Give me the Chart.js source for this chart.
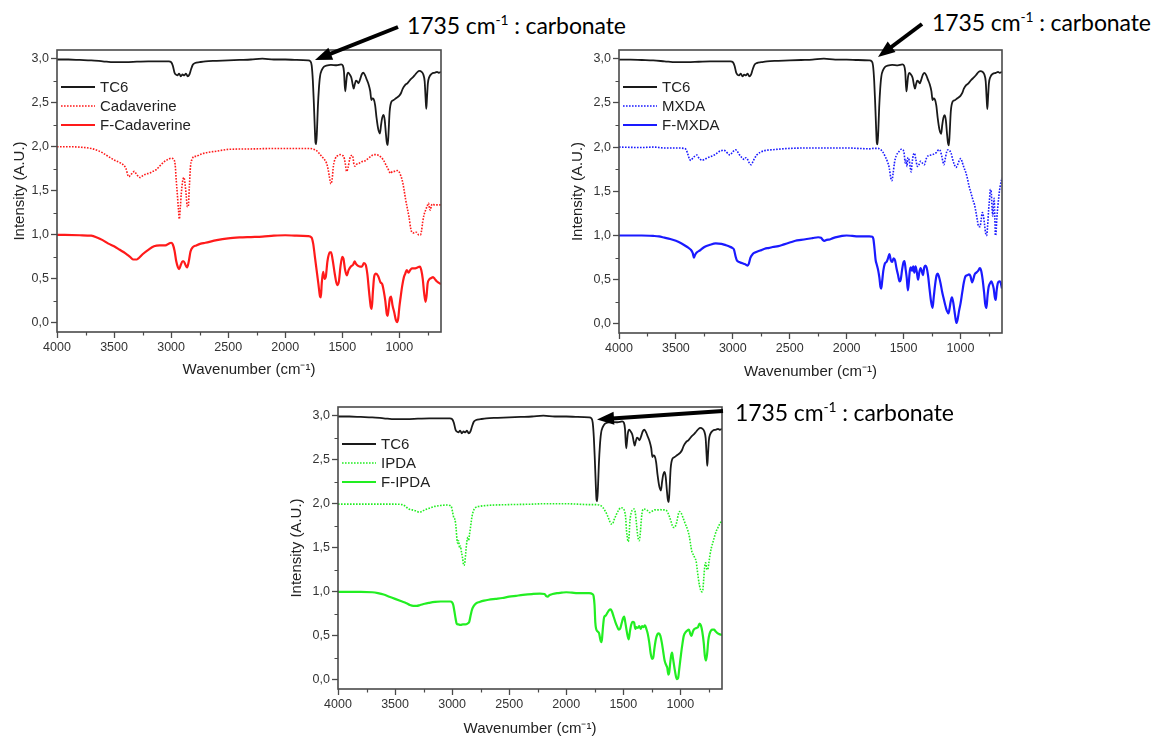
<!DOCTYPE html>
<html><head><meta charset="utf-8">
<script src="https://cdn.jsdelivr.net/npm/chart.js@4.4.1/dist/chart.umd.min.js"></script>
<style>
html,body{margin:0;padding:0;background:#fff;}
body{width:1155px;height:738px;position:relative;overflow:hidden;font-family:"Liberation Sans",Arial,sans-serif;}
.panel{position:absolute;}
.note{position:absolute;font-family:Lato,"Open Sans",sans-serif;font-size:23px;letter-spacing:-0.1px;color:#000;white-space:nowrap;line-height:1;}
.note sup{font-size:0.6em;vertical-align:0.62em;line-height:0;}
svg{position:absolute;left:0;top:0;}
</style></head><body>

<div class="panel" id="p1" style="left:0px;top:40px;"><canvas id="c1" width="460" height="350"></canvas></div>
<div class="panel" id="p2" style="left:562px;top:40px;"><canvas id="c2" width="460" height="350"></canvas></div>
<div class="panel" id="p3" style="left:281px;top:397px;"><canvas id="c3" width="460" height="341"></canvas></div>

<div class="note" style="left:407px;top:14px;">1735 cm<sup>-1</sup> : carbonate</div>
<div class="note" style="left:932px;top:11px;">1735 cm<sup>-1</sup> : carbonate</div>
<div class="note" style="left:735px;top:401px;">1735 cm<sup>-1</sup> : carbonate</div>
<svg id="arrows" width="1155" height="738"></svg>

<script>
// ---------- data (wavenumber cm-1, intensity A.U.) ----------
const X_TICKS = [4000, 3500, 3000, 2500, 2000, 1500, 1000];
const Y_TICKS = [0, 0.5, 1.0, 1.5, 2.0, 2.5, 3.0];
const X_MINOR = [3750, 3250, 2750, 2250, 1750, 1250, 750];
const Y_MINOR = [0.25, 0.75, 1.25, 1.75, 2.25, 2.75];

const TC6 = [[4000,2.99],[3900,2.99],[3800,2.985],[3700,2.98],[3600,2.97],[3500,2.96],[3400,2.96],[3300,2.965],[3200,2.97],[3100,2.97],[3020,2.97],[3000,2.96],[2985,2.92],[2970,2.84],[2960,2.82],[2945,2.81],[2930,2.83],[2915,2.80],[2900,2.82],[2885,2.81],[2870,2.83],[2855,2.80],[2840,2.82],[2825,2.88],[2810,2.93],[2790,2.95],[2750,2.96],[2700,2.97],[2600,2.975],[2500,2.98],[2400,2.985],[2300,2.99],[2200,3.0],[2100,2.99],[2000,2.99],[1900,2.985],[1800,2.98],[1780,2.97],[1768,2.92],[1758,2.75],[1750,2.52],[1742,2.25],[1735,2.05],[1729,2.03],[1722,2.18],[1714,2.45],[1705,2.66],[1695,2.80],[1680,2.87],[1660,2.91],[1640,2.92],[1600,2.93],[1550,2.925],[1510,2.935],[1495,2.92],[1485,2.85],[1475,2.63],[1468,2.70],[1460,2.80],[1448,2.84],[1435,2.82],[1420,2.78],[1408,2.70],[1400,2.66],[1392,2.70],[1380,2.75],[1368,2.74],[1358,2.72],[1345,2.76],[1330,2.82],[1315,2.84],[1300,2.81],[1285,2.76],[1270,2.71],[1255,2.63],[1245,2.53],[1237,2.55],[1225,2.54],[1212,2.47],[1200,2.33],[1185,2.2],[1170,2.15],[1160,2.25],[1150,2.33],[1138,2.36],[1128,2.30],[1118,2.15],[1110,2.05],[1102,2.02],[1095,2.15],[1085,2.40],[1070,2.51],[1050,2.53],[1030,2.55],[1000,2.58],[985,2.61],[970,2.66],[950,2.70],[930,2.72],[905,2.76],[880,2.79],[860,2.82],[840,2.85],[825,2.86],[805,2.85],[790,2.82],[778,2.74],[770,2.55],[764,2.43],[758,2.55],[750,2.72],[738,2.79],[715,2.83],[690,2.84],[670,2.85],[655,2.84],[635,2.85]];

const CADAVERINE = [[4000,2.0],[3900,2.0],[3800,1.995],[3700,1.98],[3650,1.96],[3600,1.93],[3550,1.89],[3500,1.85],[3450,1.82],[3415,1.79],[3395,1.75],[3380,1.68],[3370,1.66],[3355,1.68],[3340,1.70],[3322,1.72],[3305,1.69],[3285,1.66],[3270,1.65],[3250,1.67],[3220,1.69],[3190,1.70],[3160,1.72],[3130,1.74],[3100,1.78],[3060,1.83],[3020,1.86],[3000,1.87],[2980,1.86],[2965,1.80],[2955,1.62],[2945,1.45],[2935,1.28],[2928,1.18],[2920,1.30],[2910,1.48],[2900,1.60],[2888,1.65],[2878,1.58],[2868,1.45],[2858,1.32],[2850,1.32],[2840,1.55],[2830,1.78],[2815,1.86],[2800,1.89],[2780,1.89],[2750,1.91],[2700,1.93],[2600,1.95],[2500,1.97],[2300,1.975],[2100,1.98],[1900,1.98],[1800,1.98],[1760,1.975],[1720,1.95],[1700,1.92],[1680,1.89],[1660,1.86],[1640,1.82],[1625,1.75],[1612,1.65],[1600,1.58],[1590,1.62],[1578,1.78],[1560,1.87],[1540,1.90],[1520,1.91],[1500,1.90],[1488,1.89],[1475,1.82],[1462,1.72],[1450,1.76],[1435,1.86],[1420,1.90],[1410,1.90],[1398,1.80],[1386,1.78],[1375,1.80],[1355,1.81],[1330,1.83],[1300,1.84],[1280,1.86],[1250,1.89],[1225,1.91],[1200,1.91],[1180,1.90],[1160,1.88],[1140,1.85],[1120,1.80],[1100,1.75],[1085,1.71],[1075,1.70],[1060,1.72],[1040,1.72],[1020,1.73],[1005,1.72],[990,1.68],[975,1.62],[960,1.52],[945,1.40],[930,1.30],[915,1.20],[900,1.07],[890,1.03],[870,1.02],[850,1.03],[830,1.00],[815,1.0],[805,1.05],[795,1.15],[785,1.22],[770,1.28],[755,1.33],[745,1.36],[735,1.30],[728,1.28],[720,1.33],[710,1.35],[690,1.34],[670,1.34],[635,1.34]];

const F_CADAVERINE = [[4000,1.0],[3800,0.995],[3700,0.99],[3650,0.97],[3600,0.94],[3550,0.90],[3500,0.87],[3450,0.83],[3400,0.79],[3360,0.75],[3330,0.72],[3300,0.72],[3280,0.74],[3250,0.78],[3200,0.83],[3150,0.87],[3100,0.88],[3050,0.88],[3020,0.90],[3000,0.91],[2985,0.89],[2970,0.82],[2955,0.70],[2940,0.63],[2930,0.61],[2915,0.66],[2900,0.70],[2890,0.70],[2875,0.66],[2860,0.63],[2845,0.70],[2830,0.81],[2810,0.86],[2780,0.88],[2740,0.90],[2700,0.91],[2600,0.94],[2500,0.96],[2400,0.97],[2300,0.975],[2200,0.98],[2100,0.99],[2000,0.995],[1900,0.99],[1800,0.985],[1770,0.97],[1755,0.90],[1740,0.75],[1725,0.60],[1710,0.45],[1695,0.30],[1688,0.29],[1680,0.45],[1668,0.58],[1655,0.50],[1645,0.52],[1630,0.70],[1610,0.80],[1598,0.80],[1585,0.72],[1565,0.55],[1545,0.43],[1530,0.47],[1515,0.65],[1500,0.75],[1490,0.73],[1475,0.60],[1460,0.54],[1445,0.60],[1425,0.64],[1405,0.66],[1392,0.70],[1380,0.67],[1365,0.65],[1345,0.64],[1328,0.64],[1310,0.68],[1295,0.66],[1280,0.55],[1265,0.35],[1250,0.18],[1242,0.16],[1232,0.35],[1220,0.53],[1205,0.56],[1185,0.53],[1165,0.46],[1150,0.44],[1135,0.35],[1123,0.25],[1110,0.10],[1103,0.08],[1095,0.15],[1083,0.28],[1073,0.30],[1060,0.20],[1045,0.12],[1030,0.03],[1020,0.01],[1010,0.05],[1000,0.18],[990,0.28],[975,0.42],[960,0.52],[948,0.56],[935,0.60],[920,0.57],[905,0.60],[890,0.62],[860,0.62],[840,0.63],[820,0.64],[808,0.60],[795,0.50],[782,0.33],[770,0.24],[762,0.30],[752,0.45],[740,0.49],[720,0.51],[705,0.52],[690,0.50],[670,0.47],[635,0.44]];

const MXDA = [[4000,2.0],[3800,1.995],[3700,2.0],[3600,1.99],[3500,1.99],[3430,1.985],[3410,1.97],[3395,1.92],[3380,1.86],[3368,1.85],[3350,1.88],[3330,1.90],[3315,1.91],[3300,1.88],[3285,1.86],[3270,1.85],[3250,1.86],[3220,1.88],[3180,1.90],[3150,1.92],[3120,1.95],[3100,1.96],[3080,1.965],[3060,1.95],[3040,1.92],[3025,1.91],[3010,1.93],[2990,1.96],[2975,1.97],[2960,1.95],[2940,1.91],[2920,1.88],[2900,1.86],[2885,1.88],[2870,1.86],[2855,1.82],[2840,1.80],[2825,1.83],[2810,1.87],[2790,1.91],[2760,1.94],[2720,1.96],[2650,1.97],[2500,1.985],[2300,1.99],[2100,1.99],[2000,1.99],[1900,1.985],[1800,1.98],[1760,1.985],[1725,1.985],[1700,1.97],[1680,1.94],[1660,1.89],[1640,1.83],[1625,1.76],[1612,1.65],[1602,1.62],[1592,1.70],[1580,1.82],[1565,1.90],[1545,1.94],[1520,1.975],[1505,1.97],[1495,1.93],[1485,1.82],[1478,1.85],[1470,1.78],[1462,1.88],[1450,1.85],[1440,1.76],[1433,1.72],[1425,1.82],[1412,1.92],[1404,1.93],[1392,1.86],[1378,1.78],[1365,1.80],[1350,1.84],[1335,1.82],[1318,1.80],[1300,1.87],[1285,1.90],[1260,1.91],[1235,1.92],[1210,1.94],[1190,1.97],[1178,1.96],[1165,1.90],[1155,1.84],[1145,1.80],[1135,1.86],[1120,1.95],[1108,1.97],[1095,1.96],[1082,1.93],[1068,1.86],[1053,1.80],[1040,1.77],[1025,1.80],[1010,1.85],[997,1.87],[985,1.83],[970,1.77],[955,1.72],[940,1.65],[925,1.56],[905,1.47],[890,1.40],[877,1.35],[862,1.25],[850,1.16],[840,1.10],[828,1.10],[818,1.18],[808,1.26],[798,1.22],[788,1.12],[778,1.02],[770,1.00],[762,1.10],[752,1.30],[745,1.40],[738,1.52],[730,1.50],[722,1.30],[716,1.22],[710,1.35],[704,1.42],[698,1.20],[693,1.00],[688,1.02],[680,1.20],[672,1.32],[662,1.45],[652,1.55],[635,1.65]];

const F_MXDA = [[4000,1.0],[3800,1.0],[3700,0.995],[3650,0.99],[3600,0.975],[3550,0.96],[3500,0.94],[3450,0.91],[3400,0.87],[3370,0.84],[3352,0.80],[3342,0.75],[3332,0.78],[3315,0.81],[3290,0.83],[3250,0.87],[3200,0.895],[3150,0.91],[3100,0.905],[3060,0.89],[3030,0.875],[3005,0.86],[2990,0.84],[2975,0.76],[2965,0.72],[2945,0.70],[2925,0.69],[2905,0.68],[2885,0.67],[2870,0.66],[2860,0.68],[2845,0.75],[2825,0.79],[2800,0.81],[2760,0.83],[2720,0.85],[2680,0.86],[2650,0.87],[2600,0.88],[2550,0.90],[2500,0.92],[2450,0.94],[2400,0.95],[2350,0.96],[2300,0.97],[2250,0.98],[2225,0.975],[2210,0.95],[2195,0.94],[2175,0.95],[2150,0.955],[2120,0.97],[2080,0.985],[2040,0.995],[2000,1.0],[1950,0.995],[1900,0.99],[1850,0.99],[1800,0.99],[1775,0.985],[1765,0.96],[1755,0.85],[1745,0.72],[1735,0.67],[1722,0.60],[1712,0.52],[1703,0.42],[1696,0.40],[1688,0.48],[1678,0.60],[1665,0.68],[1650,0.70],[1637,0.74],[1624,0.79],[1612,0.72],[1600,0.70],[1588,0.74],[1575,0.72],[1562,0.63],[1548,0.55],[1535,0.48],[1525,0.50],[1512,0.62],[1500,0.70],[1492,0.71],[1482,0.62],[1472,0.52],[1462,0.38],[1455,0.45],[1445,0.60],[1435,0.64],[1425,0.60],[1415,0.65],[1405,0.58],[1395,0.65],[1385,0.60],[1372,0.50],[1362,0.58],[1350,0.63],[1340,0.60],[1330,0.55],[1318,0.64],[1308,0.66],[1298,0.64],[1285,0.55],[1272,0.40],[1258,0.25],[1245,0.18],[1235,0.30],[1222,0.45],[1210,0.55],[1200,0.57],[1188,0.53],[1175,0.46],[1162,0.37],[1150,0.30],[1135,0.22],[1120,0.15],[1105,0.12],[1095,0.18],[1085,0.26],[1075,0.30],[1063,0.24],[1052,0.14],[1042,0.05],[1035,0.01],[1025,0.05],[1012,0.15],[998,0.24],[985,0.35],[970,0.47],[955,0.54],[940,0.55],[925,0.56],[912,0.54],[898,0.47],[888,0.50],[875,0.56],[860,0.58],[845,0.60],[830,0.63],[818,0.60],[805,0.50],[792,0.35],[782,0.22],[772,0.18],[762,0.32],[752,0.42],[740,0.46],[728,0.48],[718,0.45],[708,0.40],[698,0.30],[690,0.27],[682,0.38],[672,0.46],[660,0.48],[648,0.47],[635,0.40]];

const IPDA = [[4000,1.995],[3800,1.995],[3600,1.995],[3500,1.995],[3440,1.99],[3420,1.98],[3400,1.96],[3380,1.94],[3350,1.93],[3320,1.92],[3290,1.905],[3270,1.91],[3240,1.93],[3200,1.95],[3150,1.97],[3100,1.98],[3050,1.985],[3020,1.98],[3005,1.96],[2995,1.90],[2985,1.84],[2975,1.82],[2965,1.72],[2958,1.60],[2950,1.55],[2943,1.58],[2935,1.50],[2928,1.52],[2918,1.45],[2908,1.38],[2898,1.30],[2890,1.32],[2880,1.45],[2870,1.58],[2862,1.62],[2855,1.58],[2848,1.65],[2840,1.72],[2830,1.82],[2818,1.90],[2800,1.95],[2760,1.97],[2700,1.98],[2500,1.99],[2300,1.995],[2200,2.0],[2000,2.0],[1900,1.995],[1800,1.99],[1750,1.99],[1700,1.98],[1680,1.96],[1660,1.92],[1640,1.87],[1622,1.81],[1608,1.77],[1595,1.77],[1580,1.82],[1560,1.88],[1540,1.93],[1520,1.955],[1505,1.95],[1490,1.92],[1480,1.85],[1472,1.70],[1465,1.62],[1458,1.57],[1450,1.62],[1442,1.80],[1430,1.90],[1418,1.93],[1405,1.94],[1395,1.90],[1385,1.78],[1375,1.65],[1368,1.60],[1360,1.58],[1352,1.65],[1342,1.82],[1332,1.92],[1318,1.94],[1300,1.93],[1285,1.92],[1270,1.90],[1255,1.91],[1240,1.92],[1225,1.93],[1200,1.93],[1180,1.935],[1160,1.93],[1140,1.93],[1120,1.92],[1110,1.90],[1095,1.85],[1082,1.80],[1070,1.75],[1058,1.73],[1045,1.74],[1030,1.80],[1018,1.88],[1008,1.91],[995,1.90],[982,1.86],[965,1.80],[950,1.75],[935,1.70],[920,1.62],[908,1.52],[898,1.45],[885,1.42],[872,1.38],[862,1.35],[852,1.25],[842,1.15],[832,1.07],[822,1.02],[812,1.00],[803,1.02],[795,1.15],[785,1.30],[778,1.33],[770,1.27],[760,1.25],[750,1.33],[740,1.42],[728,1.50],[715,1.56],[700,1.63],[685,1.69],[670,1.73],[655,1.77],[635,1.81]];

const F_IPDA = [[4000,1.0],[3800,1.0],[3700,0.995],[3650,0.985],[3600,0.97],[3550,0.945],[3500,0.92],[3450,0.895],[3400,0.87],[3370,0.85],[3340,0.84],[3310,0.84],[3280,0.85],[3240,0.865],[3200,0.875],[3150,0.885],[3100,0.89],[3050,0.89],[3015,0.89],[3000,0.88],[2990,0.85],[2980,0.78],[2970,0.70],[2960,0.64],[2945,0.63],[2925,0.625],[2905,0.63],[2885,0.63],[2865,0.64],[2850,0.66],[2838,0.73],[2825,0.80],[2810,0.84],[2790,0.87],[2760,0.885],[2720,0.90],[2680,0.91],[2620,0.92],[2560,0.93],[2500,0.945],[2440,0.955],[2380,0.965],[2300,0.975],[2230,0.98],[2190,0.975],[2175,0.95],[2162,0.945],[2150,0.96],[2120,0.975],[2080,0.985],[2040,0.99],[2000,0.995],[1950,0.99],[1900,0.985],[1850,0.985],[1800,0.985],[1770,0.975],[1760,0.95],[1752,0.85],[1745,0.65],[1738,0.58],[1725,0.55],[1712,0.53],[1703,0.47],[1695,0.43],[1688,0.45],[1678,0.60],[1668,0.71],[1655,0.73],[1640,0.76],[1625,0.79],[1612,0.80],[1600,0.78],[1585,0.72],[1570,0.66],[1555,0.61],[1540,0.57],[1528,0.58],[1515,0.64],[1502,0.70],[1492,0.72],[1482,0.65],[1472,0.57],[1462,0.50],[1452,0.46],[1442,0.55],[1430,0.63],[1418,0.66],[1405,0.65],[1395,0.58],[1385,0.60],[1372,0.59],[1360,0.61],[1348,0.58],[1335,0.61],[1322,0.60],[1310,0.62],[1298,0.58],[1285,0.52],[1272,0.42],[1260,0.30],[1248,0.24],[1238,0.25],[1228,0.35],[1215,0.46],[1200,0.52],[1188,0.53],[1175,0.50],[1162,0.42],[1150,0.32],[1138,0.22],[1125,0.17],[1115,0.14],[1105,0.06],[1098,0.08],[1090,0.18],[1080,0.28],[1073,0.31],[1065,0.25],[1052,0.14],[1040,0.05],[1030,0.01],[1020,0.02],[1010,0.12],[998,0.25],[985,0.38],[970,0.50],[955,0.54],[940,0.56],[925,0.57],[912,0.52],[902,0.50],[890,0.55],[875,0.58],[860,0.59],[845,0.60],[832,0.64],[820,0.62],[808,0.55],[795,0.42],[785,0.27],[775,0.22],[765,0.30],[755,0.45],[745,0.52],[732,0.56],[718,0.57],[705,0.57],[690,0.55],[675,0.53],[660,0.52],[635,0.51]];

// ---------- styling ----------
const AXIS_COLOR = '#4a4a4a';
const X_MIN = 635, X_MAX = 4000, Y_MIN = -0.103, Y_MAX = 3.098;

function solid(label, data, color, width) {
  return {label, data: data.map(p => ({x: p[0], y: p[1]})), borderColor: color, borderWidth: width, borderDash: [], pointRadius: 0, fill: false, cubicInterpolationMode: 'monotone'};
}
function dotted(label, data, color) {
  return {label, data: data.map(p => ({x: p[0], y: p[1]})), borderColor: color, borderWidth: 1.6, borderDash: [1.6, 1.4], pointRadius: 0, fill: false, cubicInterpolationMode: 'monotone'};
}

const framePlugin = {
  id: 'frame',
  afterDraw(chart) {
    const {ctx, chartArea: a, scales} = chart;
    ctx.save();
    ctx.strokeStyle = AXIS_COLOR; ctx.lineWidth = 1.6;
    ctx.strokeRect(Math.round(a.left), Math.round(a.top), Math.round(a.right - a.left), Math.round(a.bottom - a.top));
    ctx.lineWidth = 1.2;
    ctx.beginPath();
    X_MINOR.forEach(v => { const x = Math.round(scales.x.getPixelForValue(v)) + 0.5; ctx.moveTo(x, a.bottom); ctx.lineTo(x, a.bottom + 3.5); });
    Y_MINOR.forEach(v => { const y = Math.round(scales.y.getPixelForValue(v)) + 0.5; ctx.moveTo(a.left, y); ctx.lineTo(a.left - 3.5, y); });
    ctx.stroke();
    // legend inside the plot
    ctx.font = '15px "Liberation Sans", Arial, sans-serif';
    ctx.textBaseline = 'middle';
    chart.data.datasets.forEach((ds, i) => {
      const y = a.top + 37 + i * 19;
      ctx.strokeStyle = ds.borderColor; ctx.lineWidth = ds.borderWidth;
      ctx.setLineDash(ds.borderDash || []);
      ctx.beginPath(); ctx.moveTo(a.left + 4, y); ctx.lineTo(a.left + 38, y); ctx.stroke();
      ctx.setLineDash([]);
      ctx.fillStyle = '#222';
      ctx.fillText(ds.label, a.left + 43, y + 0.5);
    });
    ctx.restore();
  }
};

function makePanel(canvasId, box, area, datasets, yTitlePad, xTitlePad) {
  const tickFont = {family: '"Liberation Sans", Arial, sans-serif', size: 12.5};
  const titleFont = {family: '"Liberation Sans", Arial, sans-serif', size: 15};
  new Chart(document.getElementById(canvasId), {
    type: 'line',
    data: {datasets},
    options: {
      responsive: false, animation: false, devicePixelRatio: 1,
      layout: {padding: {top: area.top - box.top, right: box.left + box.width - area.right, left: 0, bottom: 0}},
      plugins: {legend: {display: false}, tooltip: {enabled: false}},
      scales: {
        x: {
          type: 'linear', reverse: true, min: X_MIN, max: X_MAX,
          afterBuildTicks: s => { s.ticks = X_TICKS.map(v => ({value: v})); },
          afterFit: s => { s.height = box.top + box.height - area.bottom; },
          ticks: {font: tickFont, color: '#333', padding: 2, maxRotation: 0, autoSkip: false, callback: v => String(v)},
          grid: {drawOnChartArea: false, drawTicks: true, tickLength: 6, tickColor: AXIS_COLOR, tickWidth: 1.3},
          border: {display: false},
          title: {display: true, text: 'Wavenumber (cm⁻¹)', font: titleFont, color: '#222', padding: {top: 0, bottom: xTitlePad}}
        },
        y: {
          type: 'linear', min: Y_MIN, max: Y_MAX,
          afterBuildTicks: s => { s.ticks = Y_TICKS.map(v => ({value: v})); },
          afterFit: s => { s.width = area.left - box.left; },
          ticks: {font: tickFont, color: '#333', padding: 2, autoSkip: false, callback: v => v.toFixed(1).replace('.', ',')},
          grid: {drawOnChartArea: false, drawTicks: true, tickLength: 6, tickColor: AXIS_COLOR, tickWidth: 1.3},
          border: {display: false},
          title: {display: true, text: 'Intensity (A.U.)', font: titleFont, color: '#222', padding: {top: yTitlePad, bottom: 0}}
        }
      }
    },
    plugins: [framePlugin]
  });
}

const BLACK = '#1a1a1a', RED = '#ff1a1a', BLUE = '#1a1aff', GREEN = '#22ee22';

makePanel('c1', {left: 0, top: 40, width: 460, height: 350}, {left: 57, top: 50, right: 441, bottom: 332},
  [solid('TC6', TC6, BLACK, 1.8), dotted('Cadaverine', CADAVERINE, RED), solid('F-Cadaverine', F_CADAVERINE, RED, 2.2)], 10.5, 11.5);
makePanel('c2', {left: 562, top: 40, width: 460, height: 350}, {left: 619, top: 50, right: 1002, bottom: 333},
  [solid('TC6', TC6, BLACK, 1.8), dotted('MXDA', MXDA, BLUE), solid('F-MXDA', F_MXDA, BLUE, 2.2)], 6.5, 9.5);
makePanel('c3', {left: 281, top: 397, width: 460, height: 341}, {left: 338, top: 407, right: 722, bottom: 689},
  [solid('TC6', TC6, BLACK, 1.8), dotted('IPDA', IPDA, GREEN), solid('F-IPDA', F_IPDA, GREEN, 2.2)], 6.5, 0.5);

// ---------- annotation arrows ----------
function arrow(svg, x1, y1, x2, y2) {
  const dx = x2 - x1, dy = y2 - y1, len = Math.hypot(dx, dy);
  const ux = dx / len, uy = dy / len, hl = 17, hw = 6.5;
  const bx = x2 - ux * hl, by = y2 - uy * hl;
  const ns = 'http://www.w3.org/2000/svg';
  const line = document.createElementNS(ns, 'line');
  line.setAttribute('x1', x1); line.setAttribute('y1', y1);
  line.setAttribute('x2', bx + ux * 2); line.setAttribute('y2', by + uy * 2);
  line.setAttribute('stroke', '#000'); line.setAttribute('stroke-width', 4);
  svg.appendChild(line);
  const poly = document.createElementNS(ns, 'polygon');
  poly.setAttribute('points', `${x2},${y2} ${bx - uy * hw},${by + ux * hw} ${bx + uy * hw},${by - ux * hw}`);
  poly.setAttribute('fill', '#000');
  svg.appendChild(poly);
}
const svg = document.getElementById('arrows');
arrow(svg, 398, 27, 315, 60);
arrow(svg, 922, 24, 878, 57);
arrow(svg, 723, 411, 597, 419.5);
</script>
</body></html>
